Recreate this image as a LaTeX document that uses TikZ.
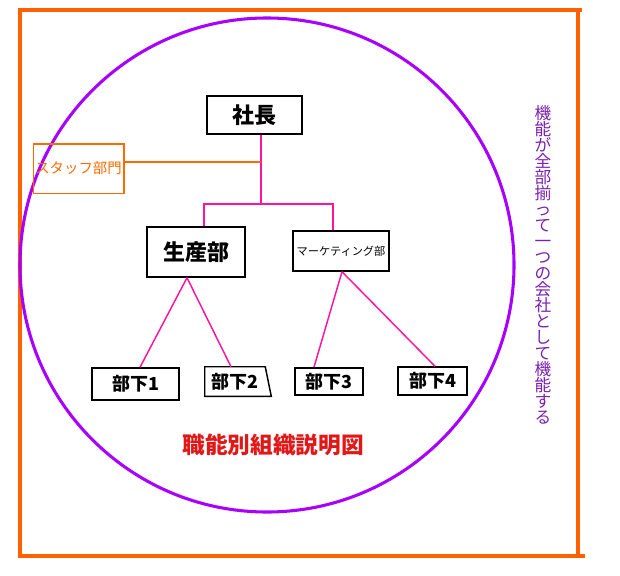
\documentclass[tikz,border=0pt]{standalone}
\usepackage{fontspec}
\setmainfont{Noto Sans CJK JP}
\usetikzlibrary{calc}
\definecolor{frameorange}{HTML}{FF6000}
\definecolor{ringviolet}{HTML}{A800FF}
\definecolor{linkpink}{HTML}{FF14A0}
\definecolor{staffline}{HTML}{FF6A00}
\definecolor{titlered}{HTML}{E01818}
\definecolor{notepurple}{HTML}{7A1FB0}

\begin{document}
\begin{tikzpicture}[x=0.75pt,y=-0.75pt,
 box/.style={draw,line width=1.1pt,inner sep=0pt,align=center},
 link/.style={linkpink,line width=1.1pt},
 big/.style={font=\fontsize{16.5}{18}\selectfont\bfseries},
 sub/.style={font=\fontsize{13.5}{15}\selectfont\bfseries}]
\useasboundingbox (0,0) rectangle (620,575);
\draw[frameorange,line width=2.3pt] (582,10) -- (20,10) -- (20,556) -- (585,556);
\draw[frameorange,line width=2.3pt] (578,10) -- (578,556);
\draw[ringviolet,line width=2.3pt] (267,265) circle[radius=185.25pt];

\node[box,big,minimum width=71pt,minimum height=28.5pt] (boss) at (254.5,115) {社長};
\node[box,color=staffline,line width=1pt,minimum width=68pt,minimum height=37pt,
  font=\fontsize{10.8}{12}\selectfont] (staff) at (78.5,168.5) {スタッフ部門};
\node[box,big,minimum width=73.5pt,minimum height=37.5pt] (prod) at (196,252) {生産部};
\node[box,minimum width=72pt,minimum height=30pt,font=\fontsize{8.4}{10}\selectfont] (mkt) at (341,251) {マーケティング部};
\node[box,sub,minimum width=65pt,minimum height=24pt] (b1) at (135.5,384) {部下1};
\node[sub,inner sep=0pt,minimum width=45pt,minimum height=21.75pt] (b2) at (235,381.5) {部下2};
\draw[line width=1.1pt] (b2.north west) -- (b2.north east) -- ($(b2.south east)+(6,0)$) -- (b2.south west) -- cycle;
\node[box,sub,minimum width=51pt,minimum height=20.5pt] (b3) at (329,381.5) {部下3};
\node[box,sub,minimum width=52pt,minimum height=21pt] (b4) at (432.5,381) {部下4};

\coordinate (j) at (261,204);
\coordinate (s) at (261,162);
\coordinate (jl) at (204,204);
\coordinate (jr) at (333,204);
\draw[link] (boss.south -| j) -- (j);
\draw[staffline,line width=1pt] (staff.east |- s) -- (s);
\draw[link] (jl |- prod.north) -- (jl) -- (jr) -- (jr |- mkt.north);
\draw[link] ($(prod.south)+(-9,0)$) -- ($(b1.north)+(4.5,0)$);
\draw[link] ($(prod.south)+(-9,0)$) -- ($(b2.north)+(-4,0)$);
\draw[link] ($(mkt.south)+(1,0)$) -- ($(b3.north)+(-15,0)$);
\draw[link] ($(mkt.south)+(1,0)$) -- ($(b4.north)+(2.5,0)$);

\node[text=titlered,font=\fontsize{17}{19}\selectfont\bfseries] (title) at (273,445) {職能別組織説明図};
\node[text=notepurple,align=center,inner sep=0pt,font=\fontsize{12.5}{12}\selectfont] (note) at (543,265)
  {機\\能\\が\\全\\部\\揃\\っ\\て\\一\\つ\\の\\会\\社\\と\\し\\て\\機\\能\\す\\る};
\end{tikzpicture}
\end{document}
